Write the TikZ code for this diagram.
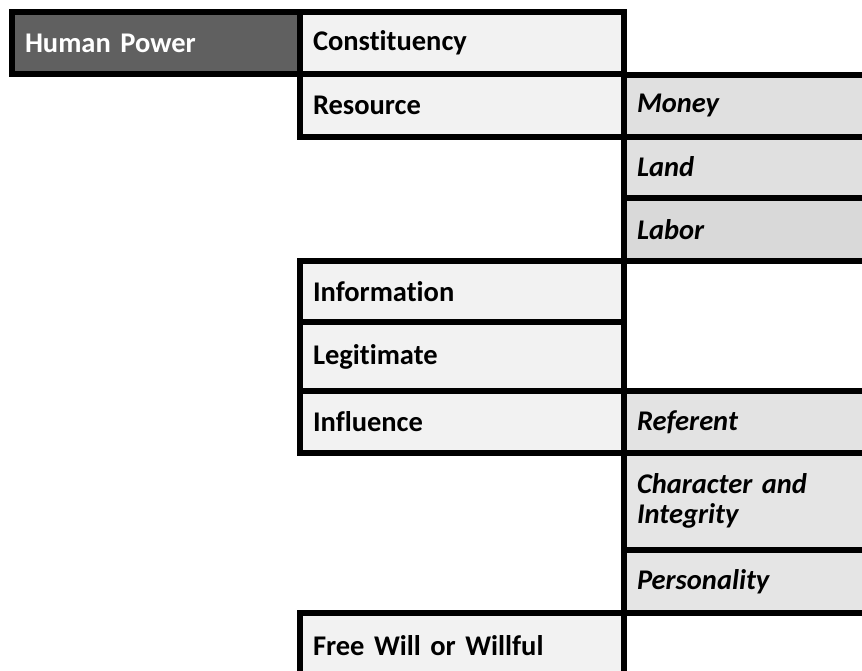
\documentclass[tikz,border=0pt]{standalone}
\usepackage{fontspec}
\setmainfont{Carlito}[Ligatures=NoCommon, WordSpace=0.8]
\usepackage{xcolor}
\definecolor{powergray}{HTML}{606060}
\definecolor{typegray}{HTML}{F2F2F2}

\begin{document}
\begin{tikzpicture}[x=1pt,y=-1pt,line width=6pt]
    \tikzstyle{cell}=[rectangle, draw=black, anchor=north west, inner xsep=13pt, inner ysep=0pt, align=left, font=\fontsize{28.5}{30}\selectfont\bfseries]
    \tikzstyle{root cell}=[cell, fill=powergray, text=white, minimum width=288pt, text width=262pt]
    \tikzstyle{type cell}=[cell, fill=typegray, minimum width=324pt, text width=298pt]
    \tikzstyle{sub cell}=[cell, minimum width=249pt, text width=223pt, font=\fontsize{28.5}{30}\selectfont\bfseries\itshape]

    \useasboundingbox (0,0) rectangle (862,670);

    % Draw the root cell
    \node[root cell, minimum height=62pt] (power) at (9,9) {Human Power};

    % Draw the kinds of power
    \foreach \name/\ya/\yb/\txt in {con/9/71/Constituency, res/71/133.5/Resource, info/258/319/Information, legit/319/388/Legitimate, infl/388/449.5/Influence, will/610/676/Free Will or Willful}
        \node[type cell, minimum height={(\yb-\ya)*1pt}] (T-\name) at (297,\ya) {\txt};

    % Draw the sub kinds
    \foreach \name/\ya/\yb/\gr/\txt in {money/72/133.5/12/Money, land/133.5/194.5/12/Land, labor/194.5/258/15/Labor, ref/388/449.5/11/Referent, char/449.5/547/10/{Character and\\Integrity}, pers/547/610/10/Personality}
        \node[sub cell, fill=black!\gr, minimum height={(\yb-\ya)*1pt}] (S-\name) at (621,\ya) {\txt};

\end{tikzpicture}
\end{document}
